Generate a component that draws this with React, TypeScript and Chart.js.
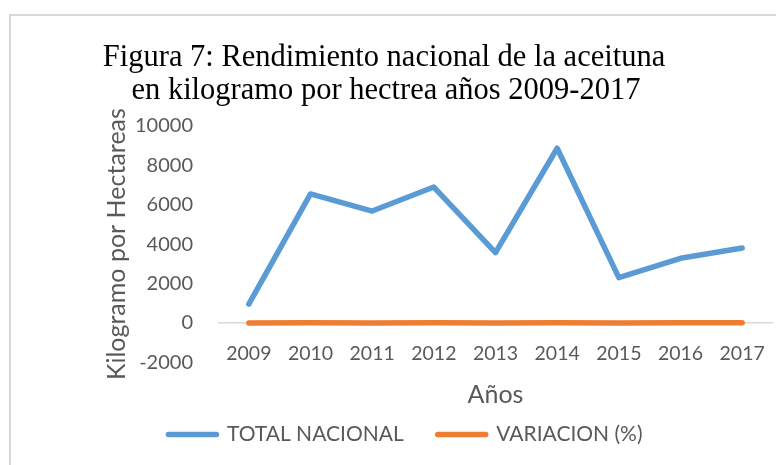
import React, { useEffect, useRef } from "react";
import { Chart, registerables } from "chart.js";

Chart.register(...registerables);

const years = ["2009", "2010", "2011", "2012", "2013", "2014", "2015", "2016", "2017"];
const totalNacional = [950, 6550, 5680, 6900, 3570, 8870, 2300, 3280, 3800];
const variacion = [0, 5.9, -0.13, 0.21, -0.48, 1.48, -0.74, 0.43, 0.16];
const seriesNames = ["TOTAL NACIONAL", "VARIACION (%)"];
const titleLines = [
  "Figura 7: Rendimiento nacional de la aceituna",
  "en kilogramo por hectrea años 2009-2017",
];
const yAxisTitle = "Kilogramo por Hectareas";
const xAxisTitle = "Años";
const yMin = -2000;
const yMax = 10000;
const yStep = 2000;

const SANS = "Lato";
const GREY = "#595959";
const LINE_W = 5.5;

export default function App() {
  const ref = useRef<HTMLCanvasElement>(null);

  useEffect(() => {
    const canvas = ref.current;
    if (!canvas) return;

    const framePlugin = {
      id: "frameAndTitle",
      beforeDraw(chart: any) {
        const ctx = chart.ctx;
        ctx.save();
        ctx.fillStyle = "#ffffff";
        ctx.fillRect(0, 0, chart.width, chart.height);
        ctx.strokeStyle = "#D9D9D9";
        ctx.lineWidth = 2;
        ctx.strokeRect(10, 15, chart.width + 20, chart.height + 20);
        ctx.restore();
      },
      afterDraw(chart: any) {
        const ctx = chart.ctx;
        ctx.save();
        ctx.fillStyle = "#000000";
        ctx.font = "30.5px 'Liberation Serif'";
        ctx.textAlign = "center";
        ctx.textBaseline = "alphabetic";
        ctx.fillText(titleLines[0], 384, 66);
        ctx.fillText(titleLines[1], 386, 98.5);
        ctx.restore();
      },
    };

    const baseGenerate = (Chart as any).defaults.plugins.legend.labels.generateLabels;

    const chart = new Chart(canvas, {
      type: "line",
      data: {
        labels: years,
        datasets: [
          {
            label: seriesNames[0],
            data: totalNacional,
            borderColor: "#5B9BD5",
            backgroundColor: "#5B9BD5",
            borderWidth: LINE_W,
            borderCapStyle: "round",
            borderJoinStyle: "round",
            pointRadius: 0,
            pointHoverRadius: 0,
            tension: 0,
            fill: false,
            xAxisID: "x",
          },
          {
            label: seriesNames[1],
            data: variacion,
            borderColor: "#ED7D31",
            backgroundColor: "#ED7D31",
            borderWidth: LINE_W,
            borderCapStyle: "round",
            borderJoinStyle: "round",
            pointRadius: 0,
            pointHoverRadius: 0,
            tension: 0,
            fill: false,
            xAxisID: "x",
          },
        ],
      },
      options: {
        responsive: false,
        animation: false,
        devicePixelRatio: 1,
        layout: { padding: { left: 38, right: 3, top: 126, bottom: 10 } },
        plugins: {
          title: { display: false },
          tooltip: { enabled: false },
          legend: {
            display: true,
            position: "bottom",
            labels: {
              usePointStyle: true,
              pointStyle: "line",
              pointStyleWidth: 48,
              padding: 34,
              color: GREY,
              font: { family: SANS, size: 21 },
              generateLabels: (c: any) =>
                baseGenerate(c).map((l: any) => ({ ...l, lineCap: "round", lineWidth: LINE_W })),
            },
          },
        },
        scales: {
          x: {
            type: "category",
            axis: "x",
            offset: true,
            position: { y: 0 },
            grid: { display: false, drawTicks: false },
            border: { display: false },
            ticks: {
              color: GREY,
              padding: 19.3,
              maxRotation: 0,
              autoSkip: false,
              font: { family: SANS, size: 19.5 },
            },
            title: { display: false },
            afterFit(scale: any) {
              scale.paddingLeft = 0;
              scale.paddingRight = 0;
            },
          },
          xt: {
            type: "category",
            axis: "x",
            offset: true,
            position: "bottom",
            grid: { display: false, drawTicks: false },
            border: { display: false },
            ticks: { display: false },
            title: {
              display: true,
              text: xAxisTitle,
              color: GREY,
              font: { family: SANS, size: 25 },
              padding: { top: 0, bottom: -20.25 },
            },
            afterFit(scale: any) {
              scale.height = 27.75;
              scale.paddingLeft = 0;
              scale.paddingRight = 0;
            },
          },
          y: {
            min: yMin,
            max: yMax,
            grid: {
              drawTicks: false,
              lineWidth: 1.5,
              color: (c: any) => (c.tick && c.tick.value === 0 ? "#D9D9D9" : "rgba(0,0,0,0)"),
            },
            border: { display: false },
            ticks: {
              stepSize: yStep,
              color: GREY,
              padding: 25,
              format: { useGrouping: false },
              font: { family: SANS, size: 20 },
            },
            title: {
              display: true,
              text: yAxisTitle,
              color: GREY,
              font: { family: SANS, size: 25 },
              padding: { top: 64, bottom: 0 },
            },
            afterFit(scale: any) {
              scale.width = 180;
            },
          },
        },
      },
      plugins: [framePlugin],
    } as any);

    return () => chart.destroy();
  }, []);

  return (
    <div style={{ position: "fixed", left: 0, top: 0, width: 776, height: 465, background: "#fff" }}>
      <canvas ref={ref} width={776} height={465} style={{ display: "block" }} />
    </div>
  );
}
